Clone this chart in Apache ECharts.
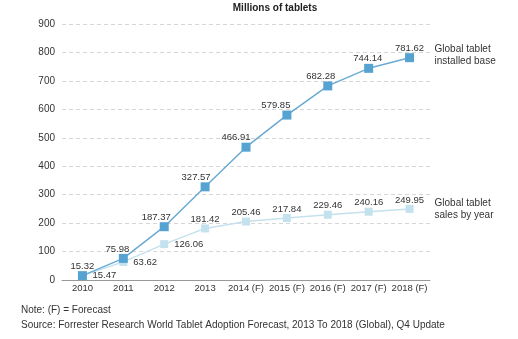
<!DOCTYPE html>
<html>
<head>
<meta charset="utf-8">
<script src="https://cdn.jsdelivr.net/npm/echarts@6/dist/echarts.min.js"></script>
<style>
html,body{margin:0;padding:0;background:#fff;}
#chart{width:518px;height:339px;}
</style>
</head>
<body>
<div id="chart"></div>
<script>
// Tablet market: installed base vs annual sales, millions of units
var years = ['2010', '2011', '2012', '2013', '2014 (F)', '2015 (F)', '2016 (F)', '2017 (F)', '2018 (F)'];
var installedBase = [15.32, 75.98, 187.37, 327.57, 466.91, 579.85, 682.28, 744.14, 781.62];
var salesByYear = [15.47, 63.62, 126.06, 181.42, 205.46, 217.84, 229.46, 240.16, 249.95];
var yTicks = [0, 100, 200, 300, 400, 500, 600, 700, 800, 900];

var FONT = '"Liberation Sans", Arial, sans-serif';
var DARK = '#56a3d1';
var LIGHT = '#c4e1ee';

// small leftward nudges keep the installed-base labels clear of the rising line
var installedShift = [0, -6, -8, -9, -10, -11, -7, -1, 0];
var installedData = installedBase.map(function (v, i) {
  return { value: v, label: { offset: [installedShift[i], 0] } };
});
// the first three sales labels sit to the right of their markers
var salesData = salesByYear.map(function (v, i) {
  return i < 3 ? { value: v, label: { position: 'right', distance: 6 } } : v;
});

var chart = echarts.init(document.getElementById('chart'), null, { renderer: 'canvas' });
chart.setOption({
  animation: false,
  backgroundColor: '#fff',
  textStyle: { fontFamily: FONT },
  title: {
    text: 'Millions of tablets',
    left: 275, top: 3, padding: 0, textAlign: 'center',
    textStyle: { fontFamily: FONT, fontSize: 10, fontWeight: 'bold', color: '#222' }
  },
  grid: { left: 62, right: 88, top: 24, bottom: 59, containLabel: false },
  xAxis: {
    type: 'category',
    data: years,
    boundaryGap: true,
    axisLine: { show: true, lineStyle: { color: '#999', width: 1 } },
    axisTick: { show: false },
    axisLabel: { color: '#333', fontSize: 9.5, fontFamily: FONT, margin: 3, interval: 0 }
  },
  yAxis: {
    type: 'value',
    min: yTicks[0], max: yTicks[yTicks.length - 1], interval: yTicks[1] - yTicks[0],
    axisLine: { show: false },
    axisTick: { show: false },
    axisLabel: { color: '#333', fontSize: 10, fontFamily: FONT, margin: 7 },
    splitLine: { lineStyle: { color: '#d6d6d6', type: [4, 3], width: 1 } }
  },
  series: [
    {
      name: 'Global tablet sales by year',
      type: 'line',
      data: salesData,
      symbol: 'rect', symbolSize: 8,
      lineStyle: { color: LIGHT, width: 1.5 },
      itemStyle: { color: LIGHT },
      label: { show: true, position: 'top', distance: 0, color: '#333', fontSize: 9.5, fontFamily: FONT },
      endLabel: {
        show: true, formatter: 'Global tablet\nsales by year', distance: 25,
        color: '#333', fontSize: 10, fontFamily: FONT, lineHeight: 12
      },
      z: 2
    },
    {
      name: 'Global tablet installed base',
      type: 'line',
      data: installedData,
      symbol: 'rect', symbolSize: 9,
      lineStyle: { color: '#6aaad2', width: 1.5 },
      itemStyle: { color: DARK },
      label: { show: true, position: 'top', distance: 0, color: '#333', fontSize: 9.5, fontFamily: FONT },
      endLabel: {
        show: true, formatter: 'Global tablet\ninstalled base', distance: 25, offset: [0, -2],
        color: '#333', fontSize: 10, fontFamily: FONT, lineHeight: 12
      },
      z: 3
    }
  ],
  graphic: [
    { type: 'text', left: 21, top: 305, style: { text: 'Note: (F) = Forecast', fill: '#333', font: '10px ' + FONT } },
    { type: 'text', left: 21, top: 320, style: { text: 'Source: Forrester Research World Tablet Adoption Forecast, 2013 To 2018 (Global), Q4 Update', fill: '#333', font: '10px ' + FONT } }
  ]
});
</script>
</body>
</html>
